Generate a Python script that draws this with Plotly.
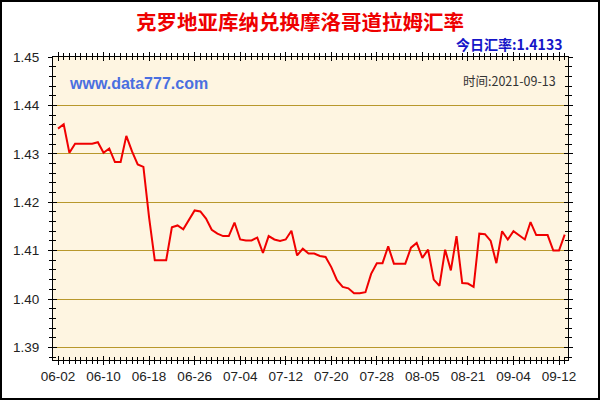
import plotly.graph_objects as go
import pandas as pd

# Category dates (daily through 08-05, sparse 08-05..09-04, daily afterwards)
daily1 = [d.strftime("%m-%d") for d in pd.date_range("2021-06-02", "2021-08-05")]
gap_dates = ["08-07", "08-09", "08-11", "08-13", "08-15", "08-17", "08-19", "08-21",
             "08-23", "08-25", "08-27", "08-29", "08-31", "09-01", "09-02", "09-04"]
daily2 = [d.strftime("%m-%d") for d in pd.date_range("2021-09-05", "2021-09-13")]
dates = daily1 + gap_dates + daily2

rates = [
    1.4352, 1.4361, 1.4302, 1.4321, 1.4321, 1.4321, 1.4321, 1.4324, 1.4302, 1.4311,
    1.4283, 1.4283, 1.4337, 1.4305, 1.4278, 1.4273, 1.4168, 1.4080, 1.4080, 1.4080,
    1.4148, 1.4152, 1.4144, 1.4164, 1.4183, 1.4181, 1.4166, 1.4143, 1.4135, 1.4130,
    1.4130, 1.4158, 1.4123, 1.4121, 1.4121, 1.4127, 1.4095, 1.4130, 1.4123, 1.4120,
    1.4123, 1.4141, 1.4090, 1.4104, 1.4094, 1.4094, 1.4089, 1.4087, 1.4066, 1.4039,
    1.4025, 1.4022, 1.4012, 1.4012, 1.4014, 1.4052, 1.4074, 1.4074, 1.4109, 1.4073,
    1.4073, 1.4073, 1.4106, 1.4116, 1.4085, 1.4102, 1.4040, 1.4027, 1.4102, 1.4059,
    1.4130, 1.4033, 1.4032, 1.4025, 1.4135, 1.4134, 1.4120, 1.4074, 1.4140, 1.4123,
    1.4140, 1.4132, 1.4123, 1.4159, 1.4132, 1.4132, 1.4132, 1.4100, 1.4100, 1.4133,
]

tick_labels = ["06-02", "06-10", "06-18", "06-26", "07-04", "07-12", "07-20",
               "07-28", "08-05", "08-21", "09-04", "09-12"]
y_ticks = [1.39, 1.40, 1.41, 1.42, 1.43, 1.44, 1.45]

title_text = "克罗地亚库纳兑换摩洛哥道拉姆汇率"
today_text = "今日汇率:1.4133"
time_text = "时间:2021-09-13"
site_text = "www.data777.com"

idx = list(range(len(dates)))
tick_pos = [dates.index(t) for t in tick_labels]

fig = go.Figure()
fig.add_trace(go.Scatter(x=idx, y=rates, mode="lines",
                         line=dict(color="#F00000", width=2),
                         hoverinfo="x+y", showlegend=False))
# invisible trace to activate the overlay axes (inside ticks)
fig.add_trace(go.Scatter(x=[idx[0]], y=[rates[0]], xaxis="x2", yaxis="y2",
                         mode="markers", marker=dict(opacity=0), showlegend=False,
                         hoverinfo="skip"))

L, R, T, B = 53, 32, 57, 40
W = 600 - L - R
H = 400 - T - B

xr = [-0.88, len(dates) - 1 + 0.58]
yr = [1.3874, 1.45]
font_x = dict(family="Arial", size=13.5, color="#222222")
font_y = dict(family="Arial", size=13.5, color="#222222")


def px_x(p):
    return (p - L) / W


def px_y(p):
    return (400 - B - p) / H


fig.update_layout(
    width=600, height=400,
    margin=dict(l=L, r=R, t=T, b=B),
    paper_bgcolor="white",
    plot_bgcolor="#FEF5E1",
    xaxis=dict(range=xr, tickmode="array", tickvals=tick_pos, ticktext=tick_labels,
               showgrid=False, zeroline=False, showline=True, linecolor="black",
               linewidth=1, mirror="ticks", ticks="outside", ticklen=4,
               tickcolor="black", tickfont=font_x,
               minor=dict(ticks="outside", ticklen=3, dtick=1, tick0=0,
                          tickcolor="black", showgrid=False)),
    yaxis=dict(range=yr, tickmode="array", tickvals=y_ticks,
               ticktext=[f"{v:.2f}" for v in y_ticks],
               showgrid=True, gridcolor="#B8982C", gridwidth=1,
               zeroline=False, showline=True, linecolor="black", linewidth=1,
               mirror="ticks", ticks="outside", ticklen=4, tickcolor="black",
               tickfont=font_y, ticklabelstandoff=6,
               minor=dict(ticks="outside", ticklen=3, dtick=0.002, tick0=1.39,
                          tickcolor="black", showgrid=False)),
    xaxis2=dict(range=xr, overlaying="x", tickmode="array", tickvals=tick_pos,
                showticklabels=False, showgrid=False, zeroline=False,
                mirror="ticks", ticks="inside", ticklen=4, tickcolor="black",
                minor=dict(ticks="inside", ticklen=3, dtick=1, tick0=0,
                           tickcolor="black")),
    yaxis2=dict(range=yr, overlaying="y", tickmode="array", tickvals=y_ticks,
                showticklabels=False, showgrid=False, zeroline=False,
                mirror="ticks", ticks="inside", ticklen=4, tickcolor="black",
                minor=dict(ticks="inside", ticklen=3, dtick=0.002, tick0=1.39,
                           tickcolor="black")),
    annotations=[
        dict(text=f"<b>{title_text}</b>", x=px_x(300), y=px_y(21), xref="paper", yref="paper",
             xanchor="center", yanchor="middle", showarrow=False,
             font=dict(family="Noto Sans CJK SC", size=20.5, color="#EE0000")),
        dict(text=f"<b>{today_text}</b>", x=px_x(564), y=px_y(44), xref="paper", yref="paper",
             xanchor="right", yanchor="middle", showarrow=False,
             font=dict(family="Noto Sans CJK SC", size=14, color="#1515C8")),
        dict(text=f"<b>{site_text}</b>", x=px_x(67), y=px_y(84), xref="paper", yref="paper",
             xanchor="left", yanchor="middle", showarrow=False,
             font=dict(family="Arial", size=16, color="#4A6FE0")),
        dict(text=time_text, x=px_x(558), y=px_y(81), xref="paper", yref="paper",
             xanchor="right", yanchor="middle", showarrow=False,
             font=dict(family="Noto Sans CJK SC", size=12.5, color="#333333")),
    ],
)
# outer black frame
fig.add_shape(type="rect", xref="paper", yref="paper",
              x0=px_x(1), x1=px_x(599), y0=px_y(399), y1=px_y(1),
              line=dict(color="black", width=2), fillcolor="rgba(0,0,0,0)", layer="above")

fig.write_html("out.html", config={"displayModeBar": False},
               post_script="document.body.style.margin='0';document.body.style.overflow='hidden';")
